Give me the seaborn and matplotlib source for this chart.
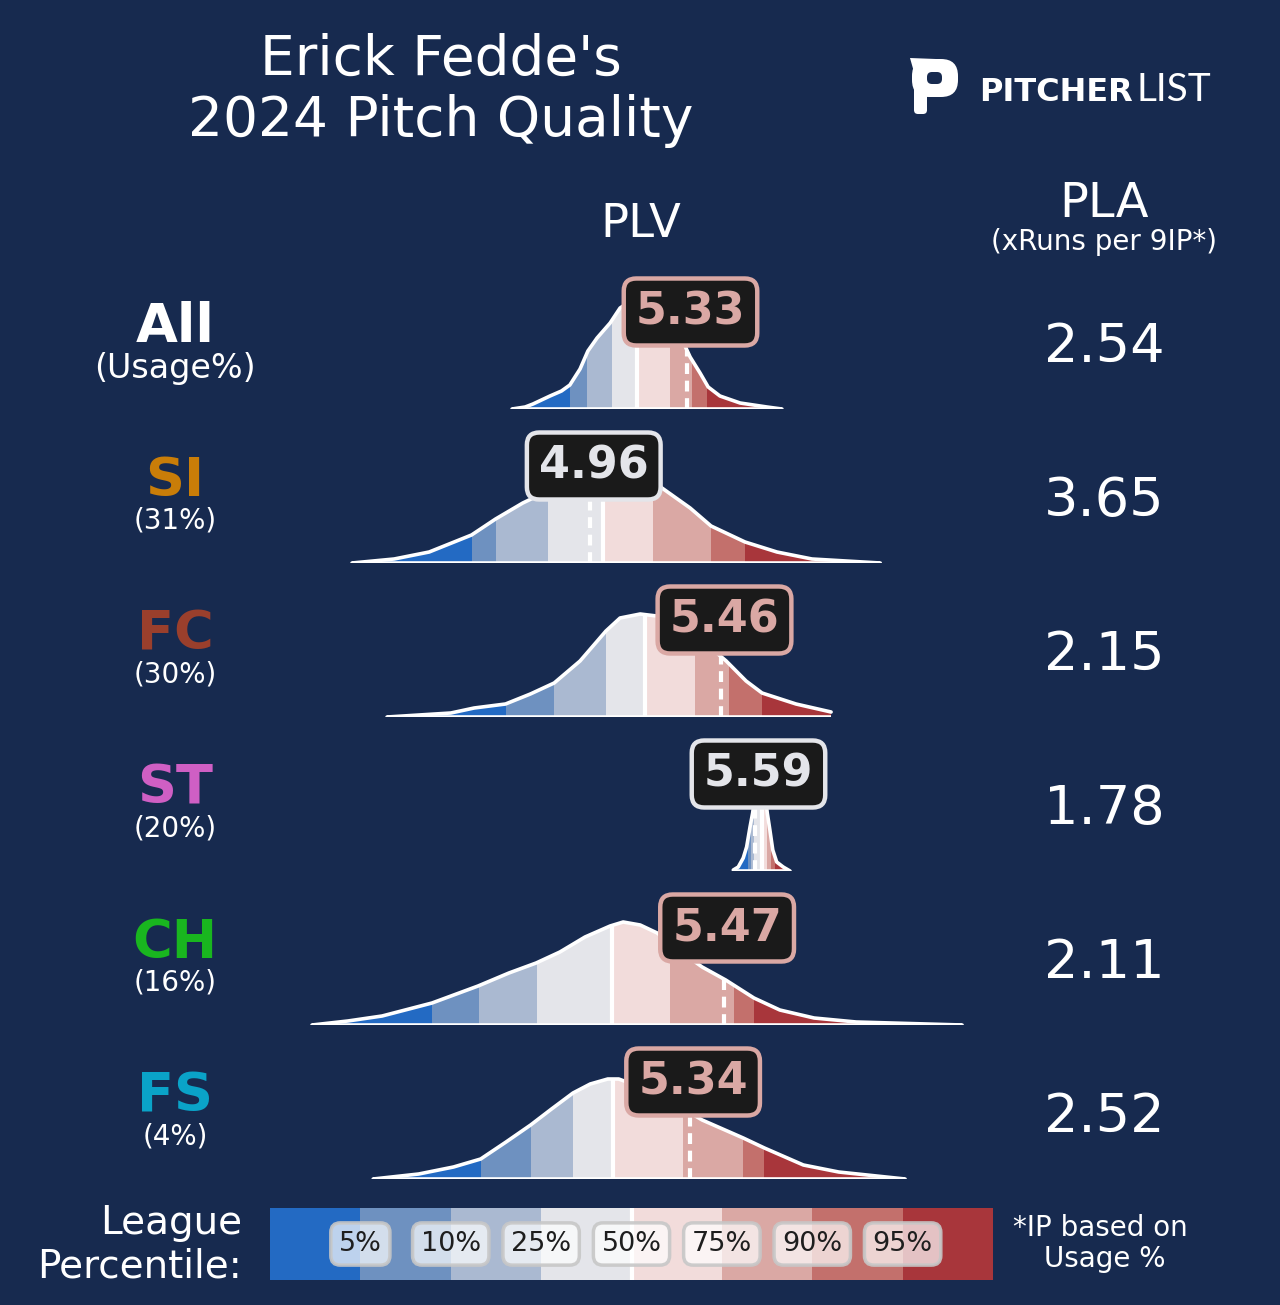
import numpy as np
import matplotlib
matplotlib.use("Agg")
import matplotlib.pyplot as plt
import seaborn as sns
from matplotlib.patches import Polygon, FancyBboxPatch
from matplotlib.colors import ListedColormap

# ---------------- data ----------------
pitch_names = ["All", "SI", "FC", "ST", "CH", "FS"]
pitch_colors = ["#ffffff", "#c97d08", "#9a3f2c", "#cf5fc4", "#19b61f", "#0aa3c8"]
usage_labels = ["(Usage%)", "(31%)", "(30%)", "(20%)", "(16%)", "(4%)"]
plv_values = [5.33, 4.96, 5.46, 5.59, 5.47, 5.34]
pla_values = [2.54, 3.65, 2.15, 1.78, 2.11, 2.52]

pct_labels = ["5%", "10%", "25%", "50%", "75%", "90%", "95%"]
band_colors = ["#236ac3", "#6e91c0", "#aab9d1", "#e4e5ea",
               "#f2dcdb", "#daa8a4", "#c3706c", "#a8363b"]

# league PLV distributions (density curves) per pitch type
all_x = [4.661, 4.711, 4.741, 4.806, 4.850, 4.882, 4.921, 4.951, 4.986, 5.036, 5.074, 5.120,
         5.170, 5.227, 5.285, 5.342, 5.380, 5.411, 5.456, 5.533, 5.636, 5.693]
all_y = [0.00, 0.02, 0.05, 0.13, 0.18, 0.24, 0.40, 0.58, 0.71, 0.86, 1.01, 1.09,
         1.11, 1.04, 0.84, 0.52, 0.36, 0.22, 0.13, 0.06, 0.02, 0.00]
all_pct = [4.882, 4.947, 5.044, 5.139, 5.265, 5.349, 5.407]

si_x = [4.049, 4.210, 4.344, 4.506, 4.598, 4.702, 4.806, 4.921, 5.000, 5.055, 5.113,
        5.170, 5.229, 5.342, 5.422, 5.552, 5.674, 5.808, 6.069]
si_y = [0.00, 0.04, 0.11, 0.28, 0.44, 0.60, 0.73, 0.88, 0.99, 1.04, 1.01,
        0.90, 0.76, 0.55, 0.37, 0.21, 0.11, 0.04, 0.00]
si_pct = [4.506, 4.598, 4.799, 5.009, 5.200, 5.422, 5.552]

fc_x = [4.183, 4.427, 4.516, 4.636, 4.731, 4.822, 4.921, 5.020, 5.074, 5.151, 5.214,
        5.303, 5.399, 5.480, 5.556, 5.617, 5.747, 5.881]
fc_y = [0.00, 0.04, 0.09, 0.13, 0.23, 0.34, 0.56, 0.86, 0.99, 1.03, 1.01,
        0.91, 0.74, 0.56, 0.36, 0.24, 0.13, 0.05]
fc_pct = [4.636, 4.822, 5.020, 5.170, 5.360, 5.491, 5.617]

st_x = [5.507, 5.526, 5.545, 5.558, 5.571, 5.581, 5.594, 5.609, 5.625, 5.637, 5.647,
        5.658, 5.673, 5.698, 5.724]
st_y = [0.01, 0.04, 0.13, 0.24, 0.44, 0.58, 0.82, 1.05, 0.84, 0.58, 0.41,
        0.21, 0.09, 0.04, 0.00]
st_pct = [5.563, 5.574, 5.586, 5.616, 5.637, 5.650, 5.667]

ch_x = [3.896, 4.033, 4.164, 4.355, 4.531, 4.649, 4.753, 4.844, 4.940, 5.036, 5.086,
        5.151, 5.216, 5.303, 5.388, 5.478, 5.586, 5.685, 5.816, 5.977, 6.382]
ch_y = [0.00, 0.04, 0.09, 0.22, 0.39, 0.52, 0.62, 0.73, 0.88, 0.99, 1.03,
        1.00, 0.92, 0.74, 0.58, 0.45, 0.27, 0.15, 0.07, 0.03, 0.00]
ch_pct = [4.354, 4.533, 4.755, 5.045, 5.265, 5.511, 5.585]

fs_x = [4.130, 4.304, 4.437, 4.541, 4.638, 4.732, 4.812, 4.894, 4.960, 5.027, 5.069,
        5.100, 5.227, 5.323, 5.388, 5.545, 5.626, 5.775, 5.910, 6.164]
fs_y = [0.00, 0.05, 0.12, 0.20, 0.37, 0.54, 0.70, 0.86, 0.95, 1.00, 1.00,
        0.97, 0.82, 0.69, 0.59, 0.41, 0.31, 0.14, 0.07, 0.00]
fs_pct = [4.541, 4.732, 4.895, 5.047, 5.314, 5.545, 5.626]

curves_x = [all_x, si_x, fc_x, st_x, ch_x, fs_x]
curves_y = [all_y, si_y, fc_y, st_y, ch_y, fs_y]
curves_pct = [all_pct, si_pct, fc_pct, st_pct, ch_pct, fs_pct]

# ---------------- style / layout ----------------
BG = "#172a4f"
W, H = 1280, 1305
sns.set_theme(style="white")
plt.rcParams["font.family"] = ["DejaVu Sans"]

fig = plt.figure(figsize=(W / 100, H / 100), dpi=100, facecolor=BG)

# overlay axes in pixel coordinates for text & logo
ov = fig.add_axes([0, 0, 1, 1])
ov.set_xlim(0, W)
ov.set_ylim(H, 0)
ov.axis("off")
ov.patch.set_alpha(0)


def txt(x, y, s, size, color="white", weight="normal", ha="center", va="baseline", **kw):
    ov.text(x, y, s, fontsize=size, color=color, fontweight=weight, ha=ha, va=va, **kw)


# title
txt(441, 75, "Erick Fedde's", 39.6)
txt(441, 136, "2024 Pitch Quality", 39.6)

# logo
ov.add_patch(FancyBboxPatch((912, 59), 46, 38, boxstyle="round,pad=0,rounding_size=17",
                            fc="white", ec="none"))
ov.add_patch(FancyBboxPatch((927, 72), 15, 12, boxstyle="round,pad=0,rounding_size=5",
                            fc=BG, ec="none"))
ov.add_patch(FancyBboxPatch((914, 66), 13, 48, boxstyle="round,pad=0,rounding_size=4",
                            fc="white", ec="none"))
ov.add_patch(Polygon([(910, 58), (936, 59), (936, 72), (914, 72)], closed=True,
                     fc="white", ec="none"))
txt(979, 101, "PITCHER", 23, weight="bold", ha="left")
ov.text(1137, 101, "LIST", fontsize=28, color="white", ha="left", va="baseline",
        family=["Lato", "DejaVu Sans"], fontweight="normal")

# column headers
txt(641, 237, "PLV", 33.5)
txt(1104, 217, "PLA", 34.5)
txt(1104, 250, "(xRuns per 9IP*)", 20)

# ---------------- density rows ----------------
px_per_unit = 261.5
xmin = 5.33 - 687 / px_per_unit
xmax = xmin + W / px_per_unit
box_shift = 3.5 / px_per_unit

for i, name in enumerate(pitch_names):
    base = 409 + 154 * i
    xs = np.array(curves_x[i])
    ys = np.array(curves_y[i])
    pcts = curves_pct[i]
    plv = plv_values[i]

    ax = fig.add_axes([0, 1 - base / H, 1, 150 / H])
    ax.patch.set_alpha(0)

    verts = np.column_stack([np.r_[xs, xs[-1]], np.r_[ys, 0.0]])
    clip = Polygon(verts, closed=True, transform=ax.transData, fc="none", ec="none")
    ax.add_patch(clip)

    edges = [xmin] + list(pcts) + [xmax]
    for j in range(8):
        sp = ax.axvspan(edges[j], edges[j + 1], color=band_colors[j], lw=0, zorder=1)
        sp.set_clip_path(clip)

    med = ax.axvline(pcts[3], color="white", lw=3, zorder=2)
    med.set_clip_path(clip)
    dl = ax.axvline(plv, color="white", lw=3, ls=(0, (2.6, 1.6)), zorder=2)
    dl.set_clip_path(clip)

    sns.lineplot(x=xs, y=ys, color="white", lw=2.6, ax=ax, estimator=None,
                 sort=False, zorder=3)
    ax.plot([xs[0], xs[-1]], [0, 0], color="white", lw=2.6, zorder=3,
            solid_capstyle="butt")

    k = int(np.searchsorted(pcts, plv))
    ec = band_colors[k]
    ax.text(plv + box_shift, 0.97, f"{plv:.2f}", ha="center", va="center", fontsize=32,
            fontweight="bold", color=ec, zorder=6,
            bbox=dict(boxstyle="round,pad=0.27,rounding_size=0.28", fc="#1a1a1a",
                      ec=ec, lw=3.2))

    ax.set_xlim(xmin, xmax)
    ax.set_ylim(0, 1.5)
    ax.axis("off")

    # left labels
    txt(175, base - 67, name, 39, color=pitch_colors[i], weight="bold")
    if i == 0:
        txt(175, base - 31, usage_labels[i], 24)
    else:
        txt(175, base - 34, usage_labels[i], 20)
    # PLA value
    txt(1104, base - 47, f"{pla_values[i]:.2f}", 39)

# ---------------- legend bar ----------------
lax = fig.add_axes([270 / W, 1 - 1280 / H, 723 / W, 72 / H])
sns.heatmap(np.arange(8).reshape(1, 8), cmap=ListedColormap(band_colors), cbar=False,
            ax=lax, xticklabels=False, yticklabels=False, linewidths=0)
lax.axvline(4, color="white", lw=3)
for j, lab in enumerate(pct_labels):
    lax.text(j + 1, 0.5, lab, ha="center", va="center", fontsize=19.5, color="#1e1e1e",
             bbox=dict(boxstyle="round,pad=0.3,rounding_size=0.35",
                       fc=(1, 1, 1, 0.7), ec=(0.78, 0.78, 0.78, 0.9), lw=2.5))
lax.set_xlim(0, 8)

txt(242, 1234, "League", 28, ha="right")
txt(242, 1277, "Percentile:", 28, ha="right")
txt(1100, 1236, "*IP based on", 20)
txt(1105, 1267, "Usage %", 20)

fig.savefig("out.png", dpi=100, facecolor=BG)
